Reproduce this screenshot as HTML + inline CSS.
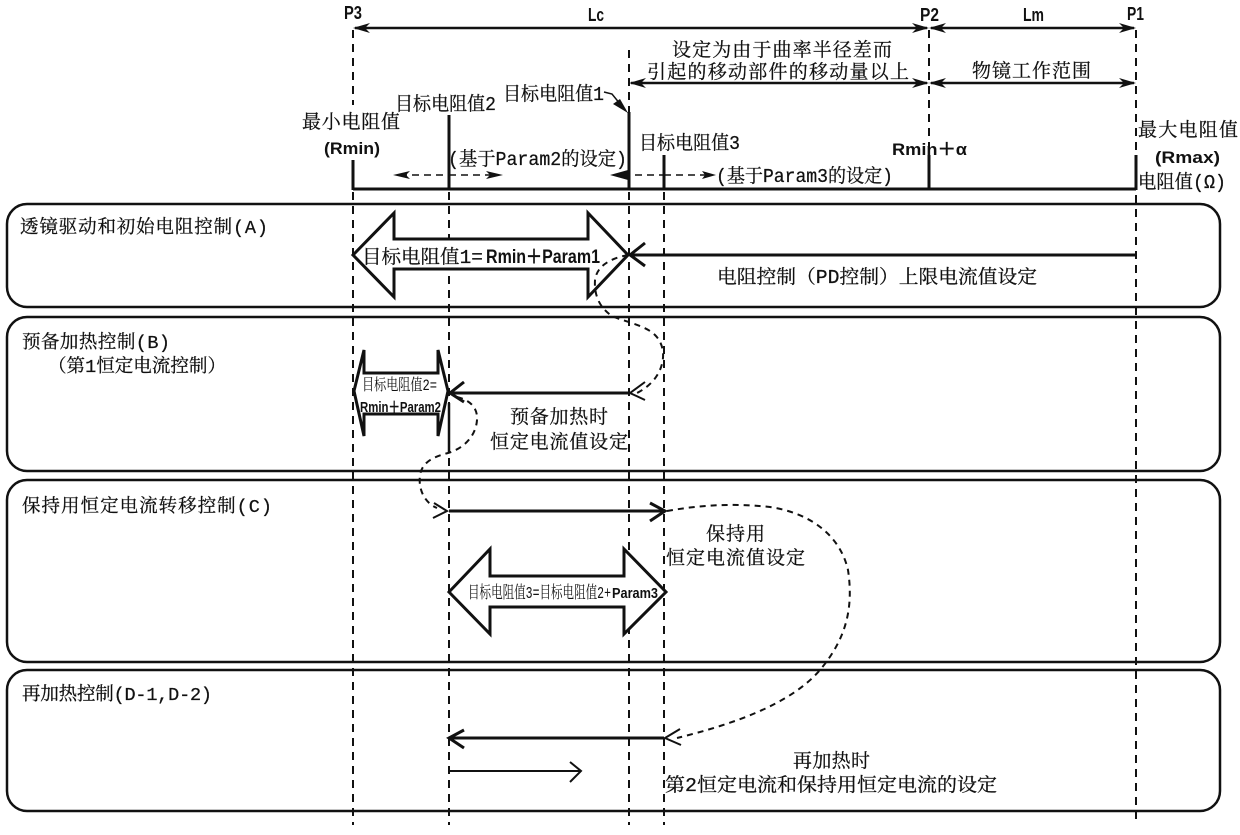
<!DOCTYPE html>
<html><head><meta charset="utf-8"><style>
html,body{margin:0;padding:0;background:#fff}
svg{display:block}
text{fill:#111}
.c{font-family:"Liberation Mono","Noto Serif CJK SC",serif;font-size:19px;stroke:#111;stroke-width:.25}
.t{font-family:"Liberation Mono","Noto Serif CJK SC",serif;font-size:18.5px;stroke:#111;stroke-width:.25}
.b{font-family:"Liberation Sans",sans-serif;font-weight:bold;font-size:17px}
.d{stroke:#111;fill:none;stroke-width:2;stroke-dasharray:8 6}
.p{fill:none;stroke:#111;stroke-width:2.5}
.l{fill:none;stroke:#111}
.f{fill:#111;stroke:none}
.w{fill:#fff;stroke:#111;stroke-width:3;stroke-linejoin:miter}
.cv{fill:none;stroke:#111;stroke-width:2;stroke-dasharray:6 5}
</style></head><body>
<svg width="1240" height="835" viewBox="0 0 1240 835" xmlns="http://www.w3.org/2000/svg">
<rect width="1240" height="835" fill="#fff"/>
<!-- panels -->
<rect class="p" x="7" y="204" width="1213" height="103" rx="20"/>
<rect class="p" x="7" y="317" width="1213" height="154" rx="20"/>
<rect class="p" x="7" y="480" width="1213" height="182" rx="20"/>
<rect class="p" x="7" y="670" width="1213" height="141" rx="20"/>
<!-- dashed verticals -->
<path class="d" d="M353 30V105M353 192V825M449 192V825M629 50V112M629 192V825M664 192V825M929 30V155M1136 30V155M1136 195V825"/>
<path class="l" stroke-width="2.5" d="M449 403V453"/>
<!-- top dimension lines -->
<path class="l" stroke-width="2.5" d="M355 28H927M931 28H1134M631 83H927M931 83H1134"/>
<path class="f" d="M353 28L370 23L365 28L370 33ZM929 28L912 23L917 28L912 33ZM929 28L946 23L941 28L946 33ZM1136 28L1119 23L1124 28L1119 33ZM629 83L646 78L641 83L646 88ZM929 83L912 78L917 83L912 88ZM929 83L946 78L941 83L946 88ZM1136 83L1119 78L1124 83L1119 88Z"/>
<!-- baseline and ticks -->
<path class="l" stroke-width="3" d="M353 189H1136"/>
<path class="l" stroke-width="3" d="M353 160V190M449 115V190M629 112V190M664 155V190M929 155V190M1136 155V190"/>
<!-- hook arrow -->
<path class="l" stroke-width="1.5" d="M604 92L612 94L625 110"/>
<path class="f" d="M628 113L613 104L620 99Z"/>
<!-- small dashed arrows -->
<path class="l" stroke-width="1.5" stroke-dasharray="7 5" d="M400 175H449M449 175H498M635 175H664M664 175H712"/>
<path class="f" d="M393 175L410 171L406 175L410 179ZM503 175L486 171L490 175L486 179ZM610 175L628 170L628 180ZM716 175L702 171L705 175L702 179Z"/>
<!-- main arrows -->
<path class="l" stroke-width="3" d="M632 255H1137"/>
<path class="l" stroke-width="3" fill="none" d="M645 243L630 255L645 266"/>
<path class="l" stroke-width="3" d="M452 393H629"/>
<path class="l" stroke-width="2" d="M645 382L630 393L645 400"/>
<path class="l" stroke-width="3" d="M464 382L450 393L464 402"/>
<path class="l" stroke-width="3" d="M449 511H662"/>
<path class="l" stroke-width="3" d="M650 503L665 511L650 521"/>
<path class="l" stroke-width="2" d="M434 503L447 511L433 518"/>
<path class="l" stroke-width="3" d="M450 738H664"/>
<path class="l" stroke-width="3" d="M464 730L449 738L464 748"/>
<path class="l" stroke-width="2" d="M680 729L665 738L681 745"/>
<path class="l" stroke-width="2" d="M449 771H580"/>
<path class="l" stroke-width="2" d="M570 762L581 771L570 782"/>
<!-- big arrows -->
<path class="w" d="M353 255L394 213V239H588V213L628 255L588 297V269H394V297Z"/>
<path class="w" d="M354 391L364 350V373H438V350L448 391L438 436V414H364V436Z"/>
<path class="w" d="M449 592L490 549V576H624V549L666 592L624 634V607H490V634Z"/>
<!-- dashed curves -->
<path class="cv" d="M628 255C612 258 597 265 595 280C594 296 600 308 612 316C625 322 645 325 655 335C665 345 665 360 659 372C654 382 645 389 637 393"/>
<path class="cv" d="M457 397C470 400 478 408 477 420C476 435 465 448 448 453C432 457 422 463 420 475C418 490 425 503 437 508"/>
<path class="cv" stroke-width="1.6" d="M667 511C700 505 735 503 770 507C810 513 840 535 848 570C854 610 845 640 820 670C790 705 730 725 677 738"/>
<!-- labels -->
<text class="b" x="344" y="19" textLength="18" lengthAdjust="spacingAndGlyphs" style="font-size:18px">P3</text>
<text class="b" x="588" y="21" textLength="16" lengthAdjust="spacingAndGlyphs" style="font-size:18px">Lc</text>
<text class="b" x="920" y="21" textLength="19" lengthAdjust="spacingAndGlyphs" style="font-size:18px">P2</text>
<text class="b" x="1023" y="21" textLength="21" lengthAdjust="spacingAndGlyphs" style="font-size:18px">Lm</text>
<text class="b" x="1127" y="20" textLength="17" lengthAdjust="spacingAndGlyphs" style="font-size:18px">P1</text>
<text class="c" x="672" y="56" textLength="220" lengthAdjust="spacing">设定为由于曲率半径差而</text>
<text class="c" x="647" y="78" textLength="262" lengthAdjust="spacing">引起的移动部件的移动量以上</text>
<text class="c" x="972" y="77" textLength="119" lengthAdjust="spacing">物镜工作范围</text>
<text class="c" x="503" y="100" textLength="101" lengthAdjust="spacingAndGlyphs">目标电阻值1</text>
<text class="c" x="395" y="110" textLength="101" lengthAdjust="spacingAndGlyphs">目标电阻值2</text>
<text class="c" x="302" y="128" textLength="98" lengthAdjust="spacing">最小电阻值</text>
<text class="b" x="324" y="154" textLength="56" lengthAdjust="spacingAndGlyphs">(Rmin)</text>
<text class="c" x="639" y="149" textLength="101" lengthAdjust="spacingAndGlyphs">目标电阻值3</text>
<text class="c" x="448" y="165" textLength="179" lengthAdjust="spacingAndGlyphs">(基于Param2的设定)</text>
<text class="c" x="716" y="182" textLength="177" lengthAdjust="spacingAndGlyphs">(基于Param3的设定)</text>
<text class="b" x="892" y="155" textLength="75" lengthAdjust="spacingAndGlyphs">Rmin＋α</text>
<text class="c" x="1138" y="136" textLength="100" lengthAdjust="spacing">最大电阻值</text>
<text class="b" x="1155" y="163" textLength="65" lengthAdjust="spacingAndGlyphs">(Rmax)</text>
<text class="c" x="1138" y="188" textLength="88" lengthAdjust="spacingAndGlyphs">电阻值(Ω)</text>
<!-- panel A -->
<text class="t" x="20" y="233" textLength="248" lengthAdjust="spacing">透镜驱动和初始电阻控制(A)</text>
<text class="c" x="362" y="263" textLength="121" lengthAdjust="spacingAndGlyphs">目标电阻值1=</text>
<text class="b" x="486" y="263" textLength="114" lengthAdjust="spacingAndGlyphs" style="font-size:19px">Rmin＋Param1</text>
<text class="c" x="717" y="283" textLength="320" lengthAdjust="spacingAndGlyphs">电阻控制（PD控制）上限电流值设定</text>
<!-- panel B -->
<text class="t" x="22" y="348" textLength="148" lengthAdjust="spacing">预备加热控制(B)</text>
<text class="t" x="48" y="372" textLength="178" lengthAdjust="spacingAndGlyphs">（第1恒定电流控制）</text>
<text class="t" x="362" y="390" textLength="75" lengthAdjust="spacingAndGlyphs" style="font-size:16px;stroke-width:0">目标电阻值2=</text>
<text class="b" x="360" y="412" textLength="81" lengthAdjust="spacingAndGlyphs" style="font-size:15px">Rmin＋Param2</text>
<text class="c" x="510" y="423" textLength="98" lengthAdjust="spacing">预备加热时</text>
<text class="c" x="490" y="448" textLength="138" lengthAdjust="spacing">恒定电流值设定</text>
<!-- panel C -->
<text class="t" x="22" y="512" textLength="250" lengthAdjust="spacing">保持用恒定电流转移控制(C)</text>
<text class="c" x="706" y="540" textLength="59" lengthAdjust="spacing">保持用</text>
<text class="c" x="666" y="564" textLength="139" lengthAdjust="spacing">恒定电流值设定</text>
<text class="t" x="468" y="598" textLength="143" lengthAdjust="spacingAndGlyphs" style="font-size:17px;stroke-width:0">目标电阻值3=目标电阻值2+</text>
<text class="b" x="612" y="598" textLength="46" lengthAdjust="spacingAndGlyphs" style="font-size:15px">Param3</text>
<!-- panel D -->
<text class="t" x="22" y="700" textLength="190" lengthAdjust="spacing">再加热控制(D-1,D-2)</text>
<text class="c" x="793" y="767" textLength="77" lengthAdjust="spacing">再加热时</text>
<text class="c" x="665" y="791" textLength="332" lengthAdjust="spacingAndGlyphs">第2恒定电流和保持用恒定电流的设定</text>
</svg>
</body></html>
